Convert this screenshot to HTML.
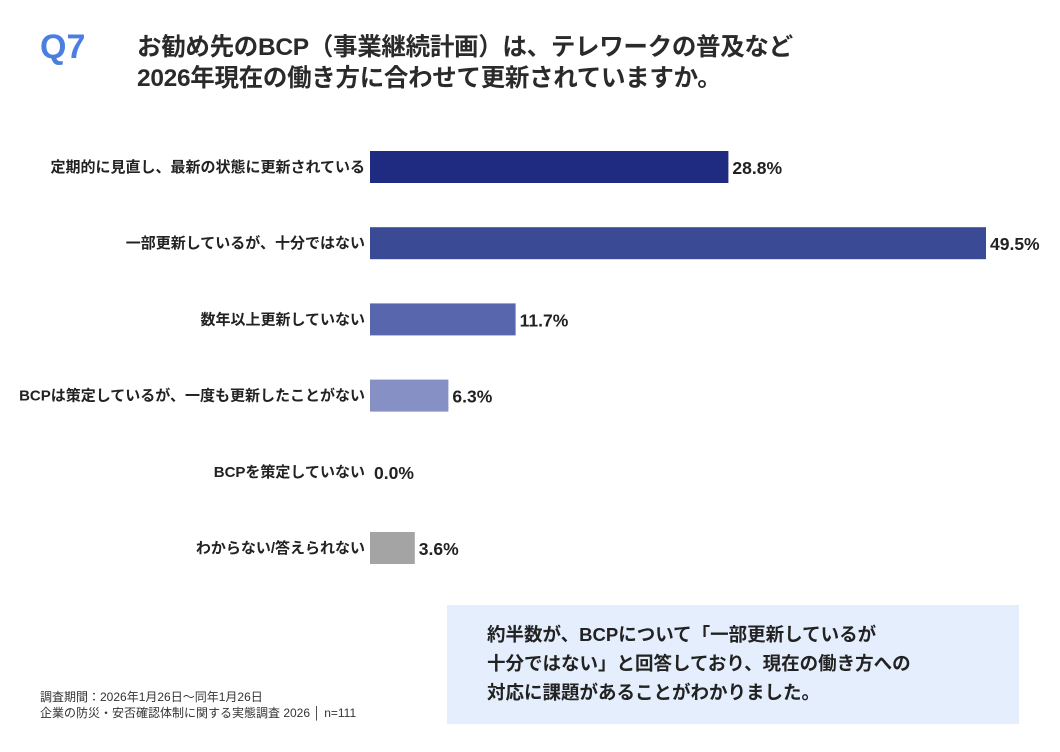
<!DOCTYPE html>
<html><head><meta charset="utf-8">
<style>
body{margin:0;width:1060px;height:752px;background:#fff;overflow:hidden;position:relative;font-family:"Liberation Sans","Noto Sans CJK JP",sans-serif;color:#222}
.q{position:absolute;left:40px;top:28px;font-size:34px;font-weight:bold;color:#4a7fe0}
.t{position:absolute;left:137px;top:32px;font-size:24.5px;font-weight:bold;line-height:31px;color:#2a2a2a;letter-spacing:-0.3px}
svg{position:absolute;left:0;top:0}
.note{position:absolute;left:447px;top:605px;width:572px;height:119px;background:#e4eefc}
.note div{position:absolute;left:40px;top:15px;font-size:18.5px;font-weight:bold;line-height:29px;color:#222}
.src{position:absolute;left:40px;top:689px;font-size:12px;line-height:16px;color:#333}
</style></head><body>
<div class="q">Q7</div>
<div class="t">お勧め先のBCP（事業継続計画）は、テレワークの普及など<br>2026年現在の働き方に合わせて更新されていますか。</div>
<svg id="chart" width="1060" height="600"></svg>
<div class="note"><div>約半数が、BCPについて「一部更新しているが<br>十分ではない」と回答しており、現在の働き方への<br>対応に課題があることがわかりました。</div></div>
<div class="src">調査期間：2026年1月26日～同年1月26日<br>企業の防災・安否確認体制に関する実態調査 2026 │ n=111</div>
<script>
const categories=["定期的に見直し、最新の状態に更新されている","一部更新しているが、十分ではない","数年以上更新していない","BCPは策定しているが、一度も更新したことがない","BCPを策定していない","わからない/答えられない"];
const values=[28.8,49.5,11.7,6.3,0.0,3.6];
const colors=["#1f2b80","#3a4a94","#5867ad","#8790c5","#8790c5","#a4a4a4"];
const svg=document.getElementById('chart');
const NS="http://www.w3.org/2000/svg";
const x0=370, scale=616/49.5;
const y=i=>167+i*76.2;
const bh=32;
categories.forEach((c,i)=>{
 const w=values[i]*scale;
 const r=document.createElementNS(NS,'rect');
 r.setAttribute('x',x0);r.setAttribute('y',y(i)-bh/2);r.setAttribute('width',w);r.setAttribute('height',bh);r.setAttribute('fill',colors[i]);
 
 
 svg.appendChild(r);
 const l=document.createElementNS(NS,'text');
 l.setAttribute('x',x0-5);l.setAttribute('y',y(i)+5);l.setAttribute('text-anchor','end');l.setAttribute('font-size','15');l.setAttribute('font-weight','bold');l.setAttribute('fill','#222');
 l.textContent=c;
 
 
 svg.appendChild(l);
 const v=document.createElementNS(NS,'text');
 v.setAttribute('x',x0+w+4);v.setAttribute('y',y(i)+7);v.setAttribute('font-size','17.5');v.setAttribute('font-weight','bold');v.setAttribute('fill','#222');
 v.textContent=values[i].toFixed(1)+'%';
 
 
 svg.appendChild(v);
});
</script>
</body></html>
